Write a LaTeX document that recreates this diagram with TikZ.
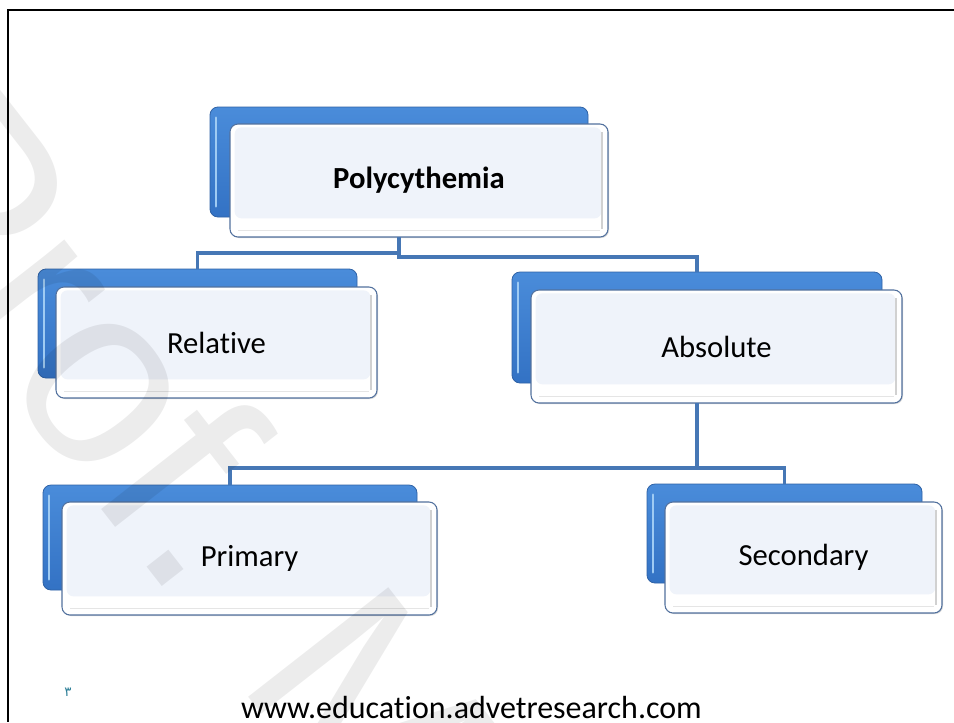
\documentclass[tikz,border=0pt]{standalone}
\usepackage{fontspec}
\setmainfont{Carlito}[Ligatures={NoCommon}]
\newfontfamily\wmfont{Liberation Sans}
\newfontfamily\arabicfont[Script=Arabic]{DejaVu Sans}
\TeXXeTstate=1
\usetikzlibrary{shadows}
\definecolor{bluetop}{HTML}{4A8CDA}
\definecolor{bluebot}{HTML}{3372C4}
\definecolor{blueedge}{HTML}{2F62A6}
\definecolor{bluehl}{HTML}{9FCBF3}
\definecolor{boxedge}{HTML}{52719E}
\definecolor{panel}{HTML}{EFF3FA}
\definecolor{conncol}{HTML}{4677B5}
\definecolor{pagenum}{HTML}{2A7D96}
\tikzset{
  bluebox/.style={rectangle, rounded corners=6pt, inner sep=0pt, outer sep=0pt,
    draw=blueedge, line width=0.6pt, top color=bluetop, bottom color=bluebot,
    path picture={
      \draw[bluehl, line width=2pt, line cap=round]
        ([shift={(4.5pt,-8pt)}]path picture bounding box.north west) --
        ([shift={(4.5pt,8pt)}]path picture bounding box.south west);
    }},
  frontbox/.style={rectangle, rounded corners=6pt, inner sep=0pt, outer sep=0pt,
    draw=boxedge, line width=0.8pt, fill=white,
    drop shadow={shadow xshift=0.8pt, shadow yshift=-0.8pt, opacity=0.3, fill=black!50},
    font=\fontsize{23}{27}\selectfont, text=black,
    path picture={
      \fill[panel, rounded corners=5pt]
        ([shift={(3.5pt,-2.5pt)}]path picture bounding box.north west) rectangle
        ([shift={(-5pt,14pt)}]path picture bounding box.south east);
      \draw[black!18, line width=1.1pt]
        ([shift={(-4.5pt,-6pt)}]path picture bounding box.north east) --
        ([shift={(-4.5pt,6pt)}]path picture bounding box.south east);
      \draw[black!10, line width=0.8pt]
        ([shift={(6pt,5pt)}]path picture bounding box.south west) --
        ([shift={(-6pt,5pt)}]path picture bounding box.south east);
    }},
  conn/.style={draw=conncol, line width=2.4pt},
}
\begin{document}
\begin{tikzpicture}[x=0.75pt, y=-0.75pt]
\useasboundingbox (0,0) rectangle (954,722);
\fill[white] (0,0) rectangle (954,722);
\draw[line width=2pt] (954,10) -- (8,10) -- (8,722);

% back (blue) boxes
\node[bluebox, minimum width=283.5pt, minimum height=82.5pt] (polyB) at (399,162) {};
\node[bluebox, minimum width=239.25pt, minimum height=81.75pt] (relB) at (197.5,323.5) {};
\node[bluebox, minimum width=277.5pt, minimum height=83.25pt] (absB) at (697,327.5) {};
\node[bluebox, minimum width=280.5pt, minimum height=78.75pt] (primB) at (230,537.5) {};
\node[bluebox, minimum width=206.25pt, minimum height=74.25pt] (secB) at (784.5,533.5) {};

% front boxes
\node[frontbox, minimum width=283.5pt, minimum height=84.75pt, font=\bfseries\fontsize{23}{27}\selectfont] (poly) at (419,180.5) {Polycythemia};
\node[frontbox, minimum width=240.75pt, minimum height=83.25pt] (rel) at (216.5,342.5) {Relative};
\node[frontbox, minimum width=278.25pt, minimum height=84.75pt] (abs) at (716.5,346.5) {Absolute};
\node[frontbox, minimum width=281.25pt, minimum height=84.75pt] (prim) at (249.5,558.5) {Primary};
\node[frontbox, minimum width=207.75pt, minimum height=83.25pt] (sec) at (803.5,557.5) {Secondary};

% connectors
\draw[conn] (polyB.south |- poly.south) -- ++(0,16) -| (relB.north);
\draw[conn] (polyB.south |- poly.south) -- ++(0,20) -| (absB.north);
\draw[conn] (absB.south |- abs.south) -- ++(0,65) -| (primB.north);
\draw[conn] (absB.south |- abs.south) -- ++(0,65) -| (secB.north);

% footer
\node[font=\arabicfont\fontsize{10}{10}\selectfont, text=pagenum, inner sep=0pt] (pnum) at (68,692) {\beginR ٣\endR};
\node[anchor=base, inner sep=0pt, font=\fontsize{24}{28}\selectfont] (url) at (471.5,718) {www.education.advetresearch.com};

% watermark
\begin{scope}
\clip (0,0) rectangle (954,722);
\node[rotate=-52, anchor=base west, inner sep=0pt, font=\wmfont\fontsize{194}{194}\selectfont, text=black, text opacity=0.075] (wm) at (-160,174) {Prof. M};
\end{scope}
\end{tikzpicture}
\end{document}
